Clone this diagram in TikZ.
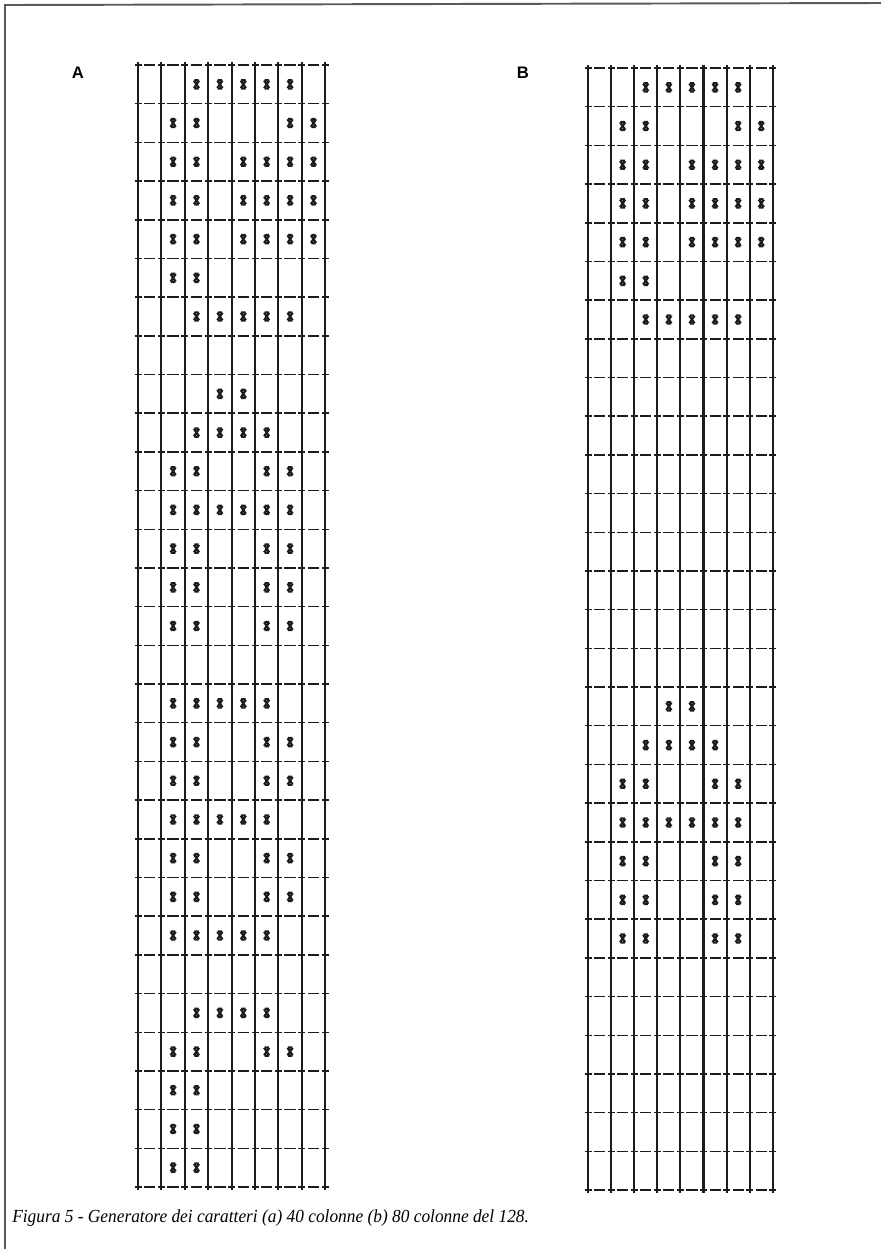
\documentclass[tikz,border=0pt]{standalone}
\usepackage{fontspec}
\setmainfont{Liberation Serif}
\newfontfamily\labelfont{Liberation Sans}
\usetikzlibrary{positioning}
\definecolor{inkGray}{HTML}{1c1c1c}
\definecolor{frameGray}{HTML}{5a5a5a}

\def\rowh{38.69}
\tikzset{
  gridline/.style={inkGray, line width=1.15pt},
  dashline/.style={inkGray, line width=0.85pt},
  dotmark/.style={inkGray, line width=1.25pt},
  charlabel/.style={font=\labelfont\bfseries\fontsize{9.5}{11}\selectfont, inner sep=0pt},
  captiontext/.style={font=\itshape\fontsize{10.5}{12}\selectfont, inner sep=0pt, anchor=base west, xscale=0.94},
  dotx/.pic={\draw[dotmark] (-2.6,-3.8) -- (2.6,3.8) (2.6,-3.8) -- (-2.6,3.8)
      (-2.2,-4.1) -- (2.2,-4.1) (-2.2,4.1) -- (2.2,4.1);}
}

% one character grid: left, top, column width, rows with their marks
\newcommand{\charbox}[4]{%
  \foreach \k in {0,...,8}
    \draw[gridline] ({#1+\k*#3},{#2-3}) -- ({#1+\k*#3},{#2+29*\rowh+3});
  \foreach \j in {0,...,29} {
    \foreach \k in {0,...,8}
      \draw[dashline] ({#1+\k*#3-3.5},{#2+\j*\rowh}) -- ++(7,0);
    \foreach \k in {0,...,7}
      \draw[dashline] ({#1+\k*#3+6},{#2+\j*\rowh}) -- ({#1+(\k+1)*#3-6},{#2+\j*\rowh});
  }
  \foreach \r/\cs in {#4}
    \foreach \c in \cs
      \pic at ({#1+(\c+0.5)*#3},{#2+(\r-0.5)*\rowh}) {dotx};
}

\begin{document}
\begin{tikzpicture}[x=0.02cm, y=-0.02cm]
  \useasboundingbox (0,0) rectangle (881,1249);
  \fill[white] (0,0) rectangle (881,1249);
  % page frame
  \draw[frameGray, line width=1.1pt] (5,1249) -- (5,5) -- (881,3);

  \node[charlabel] (labA) at (78,73) {A};
  \node[charlabel] (labB) at (523,73) {B};

  % (a) 40 colonne
  \charbox{138}{65}{23.4}{1/{2,3,4,5,6}, 2/{1,2,6,7}, 3/{1,2,4,5,6,7}, 4/{1,2,4,5,6,7},
    5/{1,2,4,5,6,7}, 6/{1,2}, 7/{2,3,4,5,6},
    9/{3,4}, 10/{2,3,4,5}, 11/{1,2,5,6}, 12/{1,2,3,4,5,6}, 13/{1,2,5,6}, 14/{1,2,5,6}, 15/{1,2,5,6},
    17/{1,2,3,4,5}, 18/{1,2,5,6}, 19/{1,2,5,6}, 20/{1,2,3,4,5}, 21/{1,2,5,6}, 22/{1,2,5,6}, 23/{1,2,3,4,5},
    25/{2,3,4,5}, 26/{1,2,5,6}, 27/{1,2}, 28/{1,2}, 29/{1,2}}

  % (b) 80 colonne
  \charbox{588}{68}{23.1}{1/{2,3,4,5,6}, 2/{1,2,6,7}, 3/{1,2,4,5,6,7}, 4/{1,2,4,5,6,7},
    5/{1,2,4,5,6,7}, 6/{1,2}, 7/{2,3,4,5,6},
    17/{3,4}, 18/{2,3,4,5}, 19/{1,2,5,6}, 20/{1,2,3,4,5,6}, 21/{1,2,5,6}, 22/{1,2,5,6}, 23/{1,2,5,6}}

  \node[captiontext] (caption) at (12,1222)
    {Figura 5 - Generatore dei caratteri (a) 40 colonne (b) 80 colonne del 128.};
\end{tikzpicture}
\end{document}
